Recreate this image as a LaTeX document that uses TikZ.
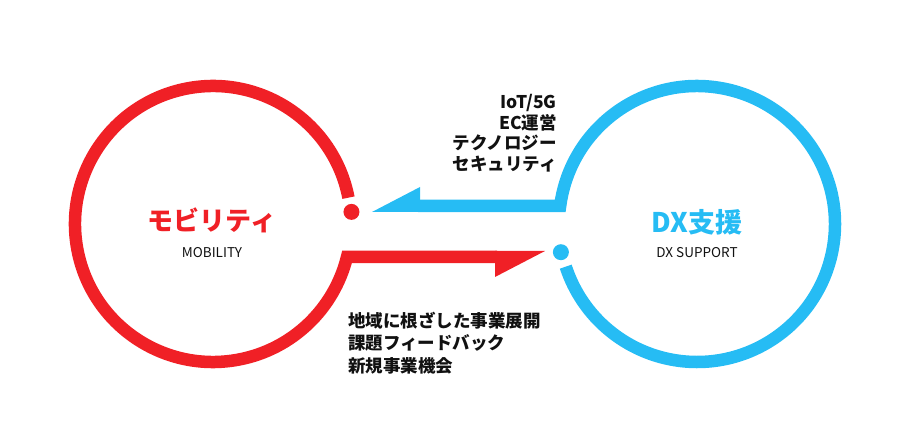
\documentclass[tikz,border=0pt]{standalone}
\usepackage{fontspec}
\setmainfont{Noto Sans CJK JP}
\definecolor{myred}{RGB}{240,32,38}
\definecolor{myblue}{RGB}{38,188,244}
\definecolor{mytext}{RGB}{17,17,17}
\begin{document}
\begin{tikzpicture}[x=1pt,y=1pt,
  redline/.style={draw=myred,line width=12.5pt},
  blueline/.style={draw=myblue,line width=12.5pt},
  title/.style={inner sep=0pt,font=\bfseries\fontsize{26}{30}\selectfont},
  subtitle/.style={inner sep=0pt,text=mytext,font=\fontsize{13.5}{15}\selectfont},
  listtext/.style={inner sep=0pt,text=mytext,font=\bfseries\fontsize{17.5}{20.5}\selectfont}]
\useasboundingbox (0,0) rectangle (922,433);
\coordinate (rc) at (213,209);
\coordinate (bc) at (697,209);
\coordinate (redend) at (497,176);
\coordinate (bluestart) at (418,227);
% red circle and arrow
\draw[redline] ([shift={(11:138)}]rc) arc[start angle=11,end angle=346.2,radius=138] -- (redend);
\fill[myred] (495,182) -- (545,182) -- (495,156) -- cycle;
\fill[myred] ([shift={(5:139)}]rc) circle[radius=8];
% blue circle and arrow
\draw[blueline] (bluestart) -- ([shift={(172.5:138)}]bc) arc[start angle=172.5,end angle=-162,radius=138];
\fill[myblue] (420,221) -- (372,221) -- (420,246) -- cycle;
\fill[myblue] ([shift={(-168.3:139)}]bc) circle[radius=8];
% texts
\node[title,text=myred] (mob) at (212,213) {モビリティ};
\node[subtitle] (mobsub) at (212,180) {MOBILITY};
\node[title,text=myblue,font=\bfseries\fontsize{27}{30}\selectfont] (dx) at (697,211) {DX支援};
\node[subtitle] (dxsub) at (697,180) {DX SUPPORT};
\node[listtext,anchor=east,align=right] (tech) at (557,300) {IoT/5G\\EC運営\\テクノロジー\\セキュリティ};
\node[listtext,anchor=west,align=left,font=\bfseries\fontsize{17.5}{22.5}\selectfont] (biz) at (348,90) {地域に根ざした事業展開\\課題フィードバック\\新規事業機会};
\end{tikzpicture}
\end{document}
